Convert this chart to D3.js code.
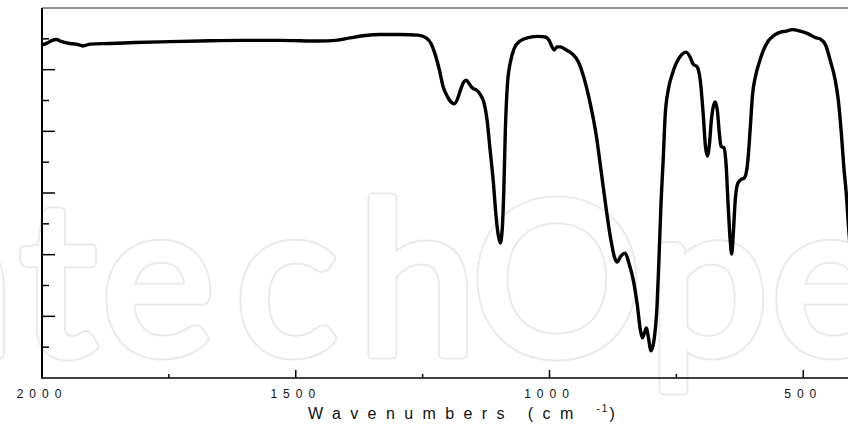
<!DOCTYPE html>
<html>
<head>
<meta charset="utf-8">
<script src="https://cdn.jsdelivr.net/npm/d3@7/dist/d3.min.js"></script>
<style>
  body { margin: 0; background: #fff; }
  svg { display: block; }
</style>
</head>
<body>
<div id="chart"></div>
<script>
// IR spectrum, values
const wavenumbers = [
  2000, 1990, 1980, 1972, 1961, 1945, 1933, 1919, 1905, 1866, 1817, 1748, 1689, 1610, 1531, 1452,
  1422, 1393, 1363, 1334, 1294, 1259, 1243, 1233, 1225, 1217, 1210, 1202, 1194, 1188, 1182, 1176,
  1170, 1164, 1158, 1152, 1144, 1137, 1129, 1123, 1117, 1111, 1105, 1101, 1097, 1093, 1090, 1087,
  1083, 1077, 1070, 1058, 1042, 1022, 1008, 1001, 995, 991, 985, 979, 967, 955, 943, 932,
  920, 908, 898, 888, 880, 872, 867, 859, 851, 843, 835, 827, 821, 817, 813, 809,
  805, 800, 794, 788, 784, 780, 776, 772, 766, 758, 750, 740, 731, 723, 717, 709,
  703, 697, 693, 689, 685, 681, 677, 673, 669, 665, 662, 656, 652, 648, 644, 641,
  638, 634, 630, 624, 616, 610, 604, 600, 594, 587, 579, 569, 557, 545, 533, 522,
  506, 490, 476, 466, 456, 447, 437, 431, 425, 420, 415, 411, 405, 400
]
const transmittance = [
  108.0, 108.6, 109.5, 109.8, 109.1, 108.5, 108.3, 107.7, 108.3, 108.5, 108.8, 109.1, 109.3, 109.5, 109.5, 109.3,
  109.5, 110.3, 111.1, 111.4, 111.4, 111.2, 110.3, 108.3, 104.8, 99.9, 94.7, 91.5, 89.5, 88.9, 90.2, 93.1,
  95.7, 96.6, 95.4, 94.1, 93.4, 92.1, 89.2, 83.7, 73.9, 64.2, 51.9, 46.4, 43.8, 48.6, 61.0, 80.4,
  95.0, 102.5, 106.7, 109.3, 110.4, 110.8, 110.6, 109.6, 107.4, 106.4, 107.4, 107.4, 106.4, 105.1, 102.5, 97.3,
  89.2, 78.8, 66.8, 54.5, 45.7, 39.2, 37.6, 39.6, 40.5, 37.0, 31.8, 23.7, 15.6, 13.0, 14.6, 16.2,
  13.0, 8.8, 12.3, 23.7, 39.9, 57.7, 70.7, 85.3, 93.4, 98.6, 102.2, 104.8, 105.7, 104.1, 101.8, 100.9,
  96.6, 85.3, 75.6, 72.0, 75.6, 83.7, 88.2, 89.5, 86.3, 78.8, 75.2, 74.6, 69.1, 56.1, 44.8, 40.2,
  46.4, 57.7, 62.6, 64.2, 64.9, 69.1, 82.1, 91.8, 97.9, 102.2, 106.1, 109.3, 111.2, 112.2, 112.5, 113.0,
  112.5, 111.6, 110.4, 109.9, 108.0, 103.1, 96.6, 90.2, 79.5, 68.4, 59.4, 49.6, 36.6, 25.3
]

const xMajorTicks = [2000, 1500, 1000, 500]
const xMinorTicks = [1750, 1250, 750]
const yMajorTicks = [20, 40, 60, 80, 100]
const yMinorTicks = [10, 30, 50, 70, 90, 110]
const watermarkLetters = ["n", "t", "e", "c", "h", "O", "p", "e", "n"]

const width = 848
const height = 435
const margin = { top: 8, left: 42, bottom: 57 }
const plotRight = 854   // the frame runs past the right edge of the picture

const svg = d3.select("#chart")
  .append("svg")
  .attr("width", width)
  .attr("height", height)

// Faint outlined publisher watermark behind the plot.
// Drawn twice: a wide grey stroke, then a slightly narrower white one,
// which leaves a thin rounded outline around a fattened glyph.
const wmX = [-105, 20, 102, 236, 358, 472, 649, 772, 905]
const wm = svg.append("g")
;[{ stroke: "#eaeaea", w: 11 }, { stroke: "#fff", w: 7 }].forEach(pass => {
  wm.append("g")
    .selectAll("text")
    .data(watermarkLetters)
    .join("text")
    .attr("x", (d, i) => wmX[i])
    .attr("y", 354)
    .attr("font-family", "Lato, 'Open Sans', sans-serif")
    .attr("font-size", 212)
    .attr("fill", "#fff")
    .attr("stroke", pass.stroke)
    .attr("stroke-width", pass.w)
    .attr("stroke-linejoin", "round")
    .text(d => d)
})

const x = d3.scaleLinear()
  .domain([2000, 400])
  .range([margin.left, plotRight])

const y = d3.scaleLinear()
  .domain([0, 120])
  .range([height - margin.bottom, margin.top])

const y0 = y(0)
const yTop = y(120)

// Frame: top line thin, left and bottom axes heavier
svg.append("line")
  .attr("x1", margin.left).attr("x2", plotRight)
  .attr("y1", yTop).attr("y2", yTop)
  .attr("stroke", "#222").attr("stroke-width", 1)

svg.append("line")
  .attr("x1", margin.left).attr("x2", plotRight)
  .attr("y1", y0).attr("y2", y0)
  .attr("stroke", "#000").attr("stroke-width", 1.5)

svg.append("line")
  .attr("x1", margin.left).attr("x2", margin.left)
  .attr("y1", yTop).attr("y2", y0 + 0.75)
  .attr("stroke", "#000").attr("stroke-width", 2)

// Inward ticks on the bottom axis
svg.append("g")
  .selectAll("line")
  .data(xMajorTicks.map(v => ({ v, len: 8 })).concat(xMinorTicks.map(v => ({ v, len: 4 }))))
  .join("line")
  .attr("x1", d => x(d.v)).attr("x2", d => x(d.v))
  .attr("y1", y0).attr("y2", d => y0 - d.len)
  .attr("stroke", "#000").attr("stroke-width", 1.5)

// Inward ticks on the left axis (no labels)
svg.append("g")
  .selectAll("line")
  .data(yMajorTicks.map(v => ({ v, len: 13 })).concat(yMinorTicks.map(v => ({ v, len: 7 }))))
  .join("line")
  .attr("x1", margin.left).attr("x2", d => margin.left + d.len)
  .attr("y1", d => y(d.v)).attr("y2", d => y(d.v))
  .attr("stroke", "#000").attr("stroke-width", 1.5)

// Tick labels
svg.append("g")
  .selectAll("text")
  .data(xMajorTicks)
  .join("text")
  .attr("x", d => x(d))
  .attr("y", 398)
  .attr("text-anchor", "middle")
  .attr("font-family", "'Liberation Sans', Arial, sans-serif")
  .attr("font-size", 12)
  .attr("letter-spacing", 6)
  .attr("fill", "#111")
  .text(d => d)

// Axis title
const title = svg.append("text")
  .attr("x", 308)
  .attr("y", 419)
  .attr("font-family", "'Liberation Sans', Arial, sans-serif")
  .attr("font-size", 16)
  .attr("letter-spacing", 9.4)
  .attr("fill", "#111")
title.append("tspan").text("Wavenumbers (cm ")
title.append("tspan").attr("font-size", 10).attr("dy", -7).attr("letter-spacing", 2).text("-1")
title.append("tspan").attr("dy", 7).text(")")

// Spectrum
const points = wavenumbers.map((w, i) => ({ w, t: transmittance[i] }))
const line = d3.line()
  .x(d => x(d.w))
  .y(d => y(d.t))
  .curve(d3.curveMonotoneX)

svg.append("path")
  .datum(points)
  .attr("fill", "none")
  .attr("stroke", "#000")
  .attr("stroke-width", 3.4)
  .attr("stroke-linejoin", "round")
  .attr("d", line)
</script>
</body>
</html>
